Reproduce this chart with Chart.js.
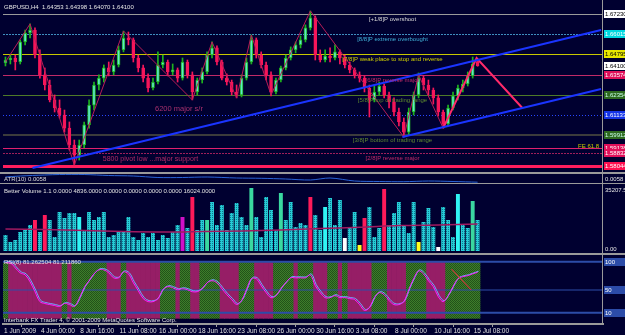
<!DOCTYPE html>
<html><head><meta charset="utf-8">
<script src="https://cdn.jsdelivr.net/npm/chart.js@4.4.1/dist/chart.umd.min.js"></script>
<style>
html,body{margin:0;padding:0;background:#000030;width:625px;height:335px;overflow:hidden;position:relative}
canvas{position:absolute;left:0}
.sep{position:absolute;background:#9a9a9a}
</style></head><body>
<canvas id="cMain" width="625" height="172" style="top:0"></canvas>
<canvas id="cAtr" width="625" height="9" style="top:174px"></canvas>
<canvas id="cVol" width="625" height="68" style="top:185px"></canvas>
<canvas id="cRsi" width="625" height="79" style="top:256px"></canvas>
<div class="sep" style="left:0;top:172px;width:625px;height:2px"></div>
<div class="sep" style="left:0;top:183px;width:625px;height:1px"></div>
<div class="sep" style="left:0;top:253px;width:625px;height:2px"></div>
<div class="sep" style="left:602px;top:0;width:1px;height:325px"></div>
<script>
// ---------------- DATA ----------------
const open = [1.6427,1.6445,1.6457,1.6433,1.6554,1.6608,1.6626,1.6475,1.6355,1.6294,
1.6204,1.6155,1.6113,1.6034,1.5932,1.5871,1.5932,1.6053,1.6173,1.6294,
1.6336,1.6397,1.6373,1.6415,1.6506,1.6578,1.6566,1.6457,1.6397,1.6336,
1.6276,1.6312,1.6415,1.6433,1.6373,1.6385,1.6336,1.6433,1.6355,1.6252,
1.6324,1.6373,1.6475,1.6518,1.6433,1.6336,1.6312,1.6252,1.6234,1.6336,
1.6433,1.6566,1.6475,1.6415,1.6355,1.6252,1.6324,1.6397,1.6457,1.6506,
1.6536,1.6566,1.6639,1.6699,1.6475,1.6445,1.6469,1.6457,1.6494,1.6457,
1.6415,1.6385,1.6355,1.6336,1.6276,1.6204,1.6252,1.6288,1.6234,1.6192,
1.6131,1.6071,1.6010,1.6131,1.6234,1.6336,1.6294,1.6264,1.6216,1.6131,
1.6059,1.6155,1.6228,1.6276,1.6300,1.6349,1.6435];
const high = [1.6463,1.6475,1.6475,1.6566,1.6626,1.6663,1.6639,1.6506,1.6397,1.6324,
1.6234,1.6204,1.6143,1.6071,1.5962,1.5962,1.6071,1.6204,1.6312,1.6355,
1.6415,1.6433,1.6445,1.6530,1.6620,1.6614,1.6578,1.6475,1.6415,1.6361,
1.6336,1.6494,1.6475,1.6445,1.6421,1.6397,1.6457,1.6445,1.6373,1.6336,
1.6397,1.6494,1.6554,1.6530,1.6445,1.6361,1.6324,1.6294,1.6355,1.6457,
1.6596,1.6578,1.6494,1.6433,1.6373,1.6336,1.6409,1.6475,1.6524,1.6554,
1.6590,1.6657,1.6741,1.6711,1.6506,1.6506,1.6518,1.6536,1.6506,1.6475,
1.6433,1.6397,1.6373,1.6349,1.6294,1.6294,1.6312,1.6300,1.6252,1.6216,
1.6155,1.6095,1.6155,1.6252,1.6367,1.6349,1.6324,1.6276,1.6234,1.6143,
1.6173,1.6252,1.6294,1.6324,1.6373,1.6463,1.6440];
const low = [1.6409,1.6421,1.6385,1.6421,1.6536,1.6578,1.6457,1.6336,1.6264,1.6192,
1.6131,1.6095,1.6010,1.5902,1.5811,1.5841,1.5914,1.6034,1.6143,1.6264,
1.6312,1.6349,1.6355,1.6403,1.6494,1.6536,1.6433,1.6373,1.6312,1.6252,
1.6264,1.6300,1.6397,1.6349,1.6355,1.6312,1.6324,1.6336,1.6204,1.6234,
1.6306,1.6361,1.6457,1.6415,1.6324,1.6294,1.6234,1.6216,1.6222,1.6324,
1.6421,1.6457,1.6397,1.6324,1.6228,1.6240,1.6312,1.6385,1.6445,1.6488,
1.6518,1.6554,1.6626,1.6445,1.6433,1.6433,1.6433,1.6445,1.6421,1.6397,
1.6367,1.6336,1.6312,1.6252,1.6101,1.6192,1.6234,1.6216,1.6155,1.6107,
1.6047,1.5980,1.5992,1.6113,1.6216,1.6264,1.6234,1.6179,1.6107,1.6034,
1.6047,1.6143,1.6204,1.6252,1.6288,1.6336,1.6407];
const close = [1.6445,1.6457,1.6433,1.6554,1.6608,1.6626,1.6475,1.6355,1.6294,1.6204,
1.6155,1.6113,1.6034,1.5932,1.5871,1.5932,1.6053,1.6173,1.6294,1.6336,
1.6397,1.6373,1.6415,1.6506,1.6578,1.6566,1.6457,1.6397,1.6336,1.6276,
1.6312,1.6415,1.6433,1.6373,1.6385,1.6336,1.6433,1.6355,1.6252,1.6324,
1.6373,1.6475,1.6518,1.6433,1.6336,1.6312,1.6252,1.6234,1.6336,1.6433,
1.6566,1.6475,1.6415,1.6355,1.6252,1.6324,1.6397,1.6457,1.6506,1.6536,
1.6566,1.6639,1.6699,1.6475,1.6445,1.6469,1.6457,1.6494,1.6457,1.6415,
1.6385,1.6355,1.6336,1.6276,1.6204,1.6252,1.6288,1.6234,1.6192,1.6131,
1.6071,1.6010,1.6131,1.6234,1.6336,1.6294,1.6264,1.6216,1.6131,1.6059,
1.6155,1.6228,1.6276,1.6300,1.6349,1.6421,1.6410];

const volume = [8800,4950,6050,10450,11550,14300,17050,10450,19800,17050,
7700,21450,18150,20900,20900,18700,11550,21450,17050,18700,
21450,7700,8800,10450,10450,18700,7700,6050,9900,7700,
9900,6050,8800,7150,10450,14300,18700,12650,29700,11550,
17050,17050,26950,14300,25300,11550,20900,26400,18700,14300,
34650,18700,7700,29700,22550,11550,31900,17050,26950,13200,
15400,14300,29700,19800,11550,24200,29150,14300,28050,7150,
12650,21450,3300,18150,24200,7700,12650,34100,14300,20900,
26950,14300,9900,26950,4950,15950,23650,13200,2200,24200,
17050,7700,31350,14300,12650,27500,17050];
const climaxBars = [6,8,38,62,73,77];
const churnBars = [41,50,56,95];
const climaxChurnBars = [36];
const lowVolBars = [72,84];
const climaxDownBars = [69,88];
const strongBars = [15,65,92];
const volAvgBar = [0,8,16,24,32,40,48,56,64,72,80,88,96];
const volAvg = [12100,11800,11300,10700,10450,10700,11000,11500,12400,13000,14000,14300,14850];

const rsi = [97.7,97.7,89.0,80.2,76.7,64.5,47.0,29.5,26.1,24.3,
22.6,20.8,26.1,24.3,20.8,34.8,54.0,66.3,78.5,85.5,
85.5,80.2,71.5,71.5,82.0,78.5,62.8,48.8,34.8,29.5,
29.5,34.8,50.5,55.8,54.0,50.5,52.3,50.5,47.0,47.0,
52.3,62.8,66.3,62.8,52.3,41.8,33.0,24.3,31.3,50.5,
69.8,69.8,57.5,45.3,36.5,40.0,52.3,62.8,71.5,71.5,
71.5,71.5,76.7,57.5,45.3,36.5,36.5,40.0,36.5,36.5,
34.8,33.0,24.3,13.8,19.1,36.5,45.3,41.8,31.3,24.3,
24.3,29.5,50.5,69.8,83.7,78.5,66.3,55.8,38.3,29.5,
40.0,55.8,69.8,73.5,75.3,78.5,81.3];
const trend = ('g'+'mmmmmmmmmmm'+'g'+'m'+'ggggggg'+'mmm'+'g'+'mmmmmmm'+'ggg'+'m'+'gg'+'mm'+'gggg'+'mmmm'+'ggg'+'mmmm'+'gggg'+'m'+'ggg'+'mmm'+'gg'+'m'+'g'+'mmmmm'+'ggg'+'mmmm'+'gggg'+'mmmm'+'ggggggg').split('');
const rsiLevels = [100,50,10];
const rsiMarkBar = [90.7,94.7];
const rsiMarkVal = [87,50];

const atrBar = [0,3,8,11,16,21,26,31,36,41,47,52,57,62,66,71,76,81,86,91,96];
const atrVal = [0.0110,0.0120,0.0130,0.0135,0.0135,0.0125,0.0120,0.0105,0.0105,0.0110,0.0100,0.0097,0.0090,0.0080,0.0100,0.0070,0.0065,0.0063,0.0070,0.0065,0.0058];

const levelPrices = [1.67230,1.66015,1.64795,1.63574,1.62354,1.61133,1.59912,1.59138,1.58832,1.58044];
const levelNames = ['[+1/8]P overshoot','[8/8]P extreme overbought','[7/8]P weak place to stop and reverse','[6/8]P reverse major','[5/8]P top of trading range','','[3/8]P bottom of trading range','','[2/8]P reverse major',''];
const zigBar = [0,5,14,24,38,42,47,50,54,62,81,84,89];
const zigPrice = [1.6433,1.6663,1.5811,1.6620,1.6204,1.6554,1.6216,1.6596,1.6234,1.6741,1.5980,1.6355,1.6034];
const projBar = [89,95.8,105.1];
const projPrice = [1.6034,1.6457,1.6155];
const chanUpBar = [5.5,121.1], chanUpPrice = [1.5793,1.6626];
const chanLoBar = [80.7,121.1], chanLoPrice = [1.5980,1.6270];
const currentPrice = 1.64100;
const tickBars = [-0.5,7,15,23,31,39,47,55,63,71,79,87,95];
const timeLabels = ['1 Jun 2009','4 Jun 00:00','8 Jun 16:00','11 Jun 08:00','16 Jun 00:00','18 Jun 16:00','23 Jun 08:00','26 Jun 00:00','30 Jun 16:00','3 Jul 08:00','8 Jul 00:00','10 Jul 16:00','15 Jul 08:00'];

// ---------------- STYLE / HELPERS ----------------
const FONT = '"Liberation Sans", Arial, sans-serif';
Chart.defaults.font.family = FONT;
const XMIN = -0.5, XMAX = 121.5;
const PAD = {left:3,right:22};
function pattern(base, dot, checker){
  const c=document.createElement('canvas'); c.width=2; c.height=2;
  const g=c.getContext('2d'); g.fillStyle=base; g.fillRect(0,0,2,2);
  g.fillStyle=dot; g.fillRect(0,0,1,1); if(checker) g.fillRect(1,1,1,1);
  return g.createPattern(c,'repeat');
}
const xScale = {type:'linear',min:XMIN,max:XMAX,offset:false,display:false};
const baseOpts = (ymin,ymax,pad)=>({
  responsive:false,animation:false,devicePixelRatio:1,
  layout:{padding:Object.assign({top:0,bottom:0},PAD,pad||{})},
  plugins:{legend:{display:false},tooltip:{enabled:false}},
  scales:{x:Object.assign({},xScale),y:{min:ymin,max:ymax,display:false}}
});
const pts = (xs,ys)=>xs.map((x,i)=>({x:x,y:ys[i]}));
function txt(ctx,s,x,y,color,size,align,base){
  ctx.save(); ctx.font=(size||6)+'px '+FONT; ctx.fillStyle=color; ctx.textAlign=align||'left'; ctx.textBaseline=base||'top';
  ctx.fillText(s,x,y); ctx.restore();
}
function tag(ctx,y,s,bg,fg){
  const yy=Math.round(y);
  ctx.fillStyle=bg; ctx.fillRect(604,yy-4,21,8);
  txt(ctx,s,605,yy+0.5,fg,6,'left','middle');
}
const shiftPlugin = {id:'shift',
  beforeDatasetDraw(ch,a){ if(ch.data.datasets[a.index].shiftPx){ch.ctx.save();ch.ctx.translate(1,-1);} },
  afterDatasetDraw(ch,a){ if(ch.data.datasets[a.index].shiftPx){ch.ctx.restore();} }};

// ---------------- MAIN PRICE PANEL ----------------
const levelStyle = [
 {c:'#9a9a9a',w:1},{c:'#3f8fc0',w:1,d:[2,1]},{c:'#c8c800',w:1},{c:'#c02a68',w:1},{c:'#4e7a28',w:1},
 {c:'#2846ff',w:1,d:[1,2]},{c:'#3c3c3c',w:2},{c:'#e0206e',w:1},{c:'#a01e5a',w:1,d:[2,1]},{c:'#ff1e5e',w:3}];
const levelText = ['#d8d8d8','#3fb0d8','#d0d000','#c02a68','#5e8a2e','','#5e8a2e','','#c02a68',''];
const LABEL_BAR = 78.7;
const mainDeco = {id:'mainDeco',
  beforeDatasetsDraw(ch){
    const {ctx,chartArea:a,scales:{y}}=ch; ctx.save();
    levelPrices.forEach((p,i)=>{const st=levelStyle[i]; const py=Math.round(y.getPixelForValue(p))+(st.w%2?0.5:0);
      ctx.strokeStyle=st.c; ctx.lineWidth=st.w; ctx.setLineDash(st.d||[]);
      ctx.beginPath(); ctx.moveTo(a.left,py); ctx.lineTo(a.right,py); ctx.stroke();});
    ctx.restore();
  },
  afterDatasetsDraw(ch){
    const {ctx,scales:{x,y}}=ch;
    levelPrices.forEach((p,i)=>{ if(levelNames[i]) txt(ctx,levelNames[i],x.getPixelForValue(LABEL_BAR),Math.round(y.getPixelForValue(p))+2,levelText[i],6,'center','top'); });
    txt(ctx,'6200 major s/r',x.getPixelForValue(30.4),y.getPixelForValue(1.6125),'#a8306e',7.5,'left','bottom');
    txt(ctx,'5800 pivot low ...major support',x.getPixelForValue(19.8),y.getPixelForValue(1.5823),'#b02a66',7,'left','bottom');
    txt(ctx,'FE 61.8',x.getPixelForValue(120.7),y.getPixelForValue(1.5908),'#c8c800',6,'right','bottom');
    txt(ctx,'GBPUSD,H4  1.64353 1.64398 1.64070 1.64100',4,4,'#e6e6e6',6);
  },
  afterDraw(ch){
    const {ctx,scales:{y}}=ch;
    const kinds=['#ffffff','#00d8e0','#e8e800',null,'#e0105a','#2e6a1e','#1434e8','#2e6a1e','#e0105a','#e0105a','#ff1050'];
    const fg=['#000','#fff','#000',null,'#fff','#cfe','#fff','#cfe','#fff','#fff','#fff'];
    const tp=[levelPrices[0],levelPrices[1],levelPrices[2],null,levelPrices[3],levelPrices[4],levelPrices[5],levelPrices[6],levelPrices[7],levelPrices[8],levelPrices[9]];
    tp.forEach((p,i)=>{ if(p!==null) tag(ctx,y.getPixelForValue(p),p.toFixed(5),kinds[i],fg[i]); });
    tag(ctx,y.getPixelForValue(currentPrice),currentPrice.toFixed(5),'#ffffff','#000');
  }};
const bullBody='#5fe8c8', bullEdge='#1eb41e', bear='#f5165a';
new Chart(document.getElementById('cMain'),{
  type:'bar',
  data:{datasets:[
    {type:'line',data:pts(chanUpBar,chanUpPrice),borderColor:'#1a34ff',borderWidth:2,pointRadius:0,order:1},
    {type:'line',data:pts(chanLoBar,chanLoPrice),borderColor:'#1a34ff',borderWidth:2,pointRadius:0,order:1},
    {type:'line',data:pts(projBar,projPrice),borderColor:'#ff2a6a',borderWidth:2,pointRadius:0,order:2},
    {type:'line',data:pts(zigBar,zigPrice),borderColor:'#b81c58',borderWidth:1,pointRadius:0,order:3},
    {data:open.map((o,i)=>({x:i,y:[o,close[i]]})),grouped:false,barThickness:3,borderSkipped:false,
      backgroundColor:c=>close[c.dataIndex]>=open[c.dataIndex]?bullBody:bear,
      borderColor:c=>close[c.dataIndex]>=open[c.dataIndex]?bullEdge:bear,borderWidth:1,order:4},
    {data:low.map((l,i)=>({x:i,y:[l,high[i]]})),grouped:false,barThickness:1,
      backgroundColor:c=>close[c.dataIndex]>=open[c.dataIndex]?bullEdge:bear,order:5}
  ]},
  options:baseOpts(1.5775,1.6789,{top:3,bottom:1}),
  plugins:[mainDeco]
});

// ---------------- ATR PANEL ----------------
new Chart(document.getElementById('cAtr'),{
  type:'line',
  data:{datasets:[{data:pts(atrBar,atrVal),borderColor:'#2a64d8',borderWidth:1,pointRadius:0,tension:0.3}]},
  options:baseOpts(0.0050,0.0140),
  plugins:[{id:'atrT',afterDraw(ch){txt(ch.ctx,'ATR(10) 0.0058',4,2,'#d8d8d8',6);txt(ch.ctx,'0.0058',605,2,'#e6e6e6',6);}}]
});

// ---------------- VOLUME PANEL ----------------
const cyanPat = pattern('#26cdd6','#0f7890',false);
function volColor(i){
  if(climaxBars.includes(i)) return '#ff1a5a';
  if(climaxChurnBars.includes(i)) return '#d010c8';
  if(churnBars.includes(i)) return '#3ad8a0';
  if(lowVolBars.includes(i)) return '#ffff20';
  if(climaxDownBars.includes(i)) return '#ffffff';
  if(strongBars.includes(i)) return '#30f4f4';
  return cyanPat;
}
new Chart(document.getElementById('cVol'),{
  type:'bar',
  data:{datasets:[
    {type:'line',data:pts(volAvgBar,volAvg),borderColor:'#a01a60',borderWidth:1.5,pointRadius:0,tension:0.3,order:1},
    {data:volume.map((v,i)=>({x:i,y:v})),backgroundColor:volume.map((v,i)=>volColor(i)),barPercentage:0.8,categoryPercentage:1,order:2}
  ]},
  options:baseOpts(0,35207.5,{top:2,bottom:2}),
  plugins:[{id:'volT',afterDraw(ch){const c=ch.ctx;
    txt(c,'Better Volume 1.1 0.0000 4836.0000 0.0000 0.0000 0.0000 0.0000 16024.0000',4,3,'#e0e0e0',6);
    txt(c,'35207.5',605,2,'#e6e6e6',6); txt(c,'0.00',605,61,'#e6e6e6',6);}}]
});

// ---------------- RSI PANEL ----------------
const greenPat = pattern('#3e7e2a','#22521a',true);
const rsiOpts = baseOpts(-10,110);
rsiOpts.scales.x = {type:'linear',min:XMIN,max:XMAX,offset:false,display:true,
  afterBuildTicks:s=>{s.ticks=tickBars.map(v=>({value:v}));},
  afterFit:s=>{s.height=11;},
  grid:{display:true,drawOnChartArea:false,drawTicks:true,tickLength:3,color:'#a0a0a0'},
  border:{display:true,color:'#9a9a9a',width:2},
  ticks:{autoSkip:false,maxRotation:0,align:'start',padding:0,labelOffset:1,color:'#e0e0e0',font:{size:6.5,family:FONT},
    callback:(v,i)=>timeLabels[i]}};
new Chart(document.getElementById('cRsi'),{
  type:'bar',
  data:{datasets:[
    {type:'line',data:pts(rsiMarkBar,rsiMarkVal),borderColor:'#ff2040',borderWidth:1,pointRadius:0,order:0},
    {type:'line',data:rsi.map((v,i)=>({x:i,y:v})),borderColor:'#ff20ff',borderWidth:1,pointRadius:0,tension:0.35,order:1},
    {type:'line',data:rsi.map((v,i)=>({x:i,y:v})),borderColor:'#70a8ff',borderWidth:1,pointRadius:0,tension:0.35,order:2,shiftPx:true},
    ...rsiLevels.map((L,k)=>({type:'line',data:[{x:XMIN,y:L},{x:XMAX,y:L}],borderColor:'#2c4ca8',borderWidth:k===1?1:2,pointRadius:0,order:5})),
    {data:trend.map((t,i)=>t==='g'?{x:i,y:[0,100]}:null).filter(Boolean),backgroundColor:greenPat,grouped:false,barPercentage:1,categoryPercentage:1,order:10},
    {data:trend.map((t,i)=>t==='m'?{x:i,y:[0,100]}:null).filter(Boolean),backgroundColor:'#961e66',grouped:false,barPercentage:1,categoryPercentage:1,order:10}
  ]},
  options:rsiOpts,
  plugins:[shiftPlugin,{id:'rsiT',afterDraw(ch){const c=ch.ctx,y=ch.scales.y;
    txt(c,'RSI(8) 81.262504 81.211860',4,3,'#e6e6e6',6);
    txt(c,'Interbank FX Trader 4, \u00a9 2001-2009 MetaQuotes Software Corp.',4,61,'#e6e6e6',6);
    rsiLevels.forEach(L=>tag(c,y.getPixelForValue(L),String(L),'#2c4ca8','#ffffff'));}}]
});
</script>
</body></html>
